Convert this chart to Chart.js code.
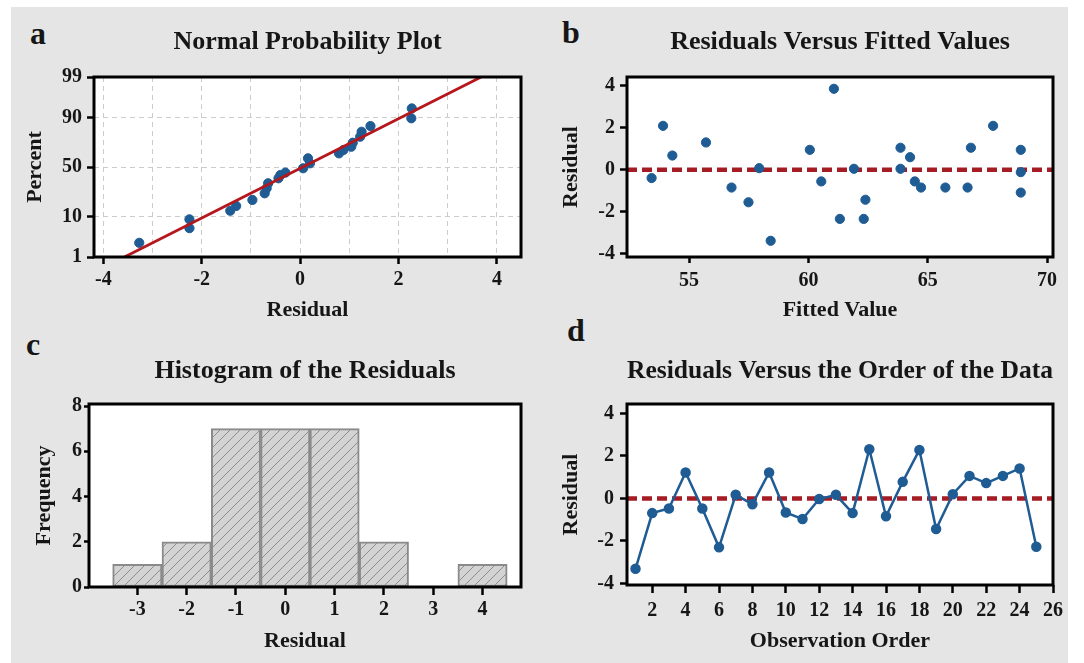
<!DOCTYPE html>
<html>
<head>
<meta charset="utf-8">
<script src="https://cdn.jsdelivr.net/npm/chart.js@4.4.1/dist/chart.umd.min.js"></script>
<style>
  html, body { margin: 0; padding: 0; }
  body { width: 1084px; height: 663px; background: #ffffff; position: relative; overflow: hidden; }
  #bg { position: absolute; left: 11px; top: 7px; width: 1057px; height: 656px; background: #e5e5e5; }
  canvas { position: absolute; }
  .letter { position: absolute; font: bold 32px/32px 'Liberation Serif', serif; color: #161616; }
</style>
</head>
<body>
<div id="bg"></div>
<div class="letter" style="left:30px;top:17px">a</div>
<div class="letter" style="left:562px;top:16px">b</div>
<div class="letter" style="left:26px;top:328px">c</div>
<div class="letter" style="left:567px;top:314px">d</div>
<canvas id="chartA" width="540" height="330" style="left:0;top:0"></canvas>
<canvas id="chartB" width="544" height="330" style="left:540px;top:0"></canvas>
<canvas id="chartC" width="540" height="333" style="left:0;top:330px"></canvas>
<canvas id="chartD" width="544" height="333" style="left:540px;top:330px"></canvas>
<script>
// a - normal probability plot (residual, percent)
const probResidual = [-3.27, -2.25, -2.25, -1.42, -1.30, -0.97, -0.72, -0.68, -0.65, -0.44, -0.40, -0.30,
                      0.06, 0.20, 0.16, 0.79, 0.88, 1.04, 1.07, 1.22, 1.25, 1.43, 2.26, 2.27];
const probPercent = [2.5, 5.7, 8.8, 12.9, 15.7, 19.7, 24.8, 29.1, 33.7, 38.5, 41.8, 44.2,
                     48.7, 53.8, 58.9, 63.8, 67.0, 70.0, 73.5, 78.3, 81.9, 85.5, 89.6, 93.5];
const fitResidual = [-3.57, 3.68];
const fitPercent = [1, 99];
const percentTicks = [1, 10, 50, 90, 99];

// b - residuals versus fitted values
const fittedValue = [53.43, 53.91, 54.30, 55.71, 56.78, 57.49, 57.94, 58.42, 60.06, 60.54, 61.07, 61.32, 61.91, 62.32,
                     62.39, 63.86, 63.86, 64.26, 64.46, 64.72, 65.74, 66.67, 66.81, 67.74, 68.90, 68.90, 68.90];
const fittedResidual = [-0.40, 2.08, 0.67, 1.29, -0.85, -1.55, 0.07, -3.38, 0.94, -0.56, 3.84, -2.34, 0.04, -2.34,
                        -1.43, 1.04, 0.04, 0.59, -0.56, -0.85, -0.85, -0.85, 1.04, 2.08, 0.94, -0.12, -1.09];

// c - histogram of the residuals
const histBins = [-3, -2, -1, 0, 1, 2, 3, 4];
const histCounts = [1, 2, 7, 7, 7, 2, 0, 1];

// d - residuals versus observation order
const obsOrder = [1, 2, 3, 4, 5, 6, 7, 8, 9, 10, 11, 12, 13, 14, 15, 16, 17, 18, 19, 20, 21, 22, 23, 24, 25];
const obsResidual = [-3.31, -0.69, -0.47, 1.22, -0.47, -2.30, 0.17, -0.27, 1.22, -0.66, -0.97, -0.03, 0.17,
                     -0.69, 2.31, -0.84, 0.78, 2.28, -1.44, 0.20, 1.06, 0.72, 1.06, 1.41, -2.27];

const serif = "'Liberation Serif', 'Times New Roman', serif";
const ink = '#161616';
const blue = '#1f5c94';
const darkRed = '#a51c24';

// inverse normal cdf (Abramowitz & Stegun 26.2.23), good enough for the probability axis
function probit(p) {
    const q = p < 0.5 ? p : 1 - p;
    const t = Math.sqrt(-2 * Math.log(q));
    const z = t - (2.515517 + 0.802853 * t + 0.010328 * t * t) /
        (1 + 1.432788 * t + 0.189269 * t * t + 0.001308 * t * t * t);
    return p < 0.5 ? -z : z;
}

const framePlugin = {
    id: 'frame',
    beforeDraw(chart) {
        const {ctx, chartArea: a} = chart;
        ctx.save();
        ctx.fillStyle = '#ffffff';
        ctx.fillRect(a.left, a.top, a.right - a.left, a.bottom - a.top);
        ctx.restore();
    },
    afterDatasetsDraw(chart) {
        const {ctx, chartArea: a} = chart;
        ctx.save();
        ctx.strokeStyle = '#000';
        ctx.lineWidth = 3;
        ctx.strokeRect(a.left, a.top, a.right - a.left, a.bottom - a.top);
        ctx.restore();
    }
};

function tickFont() {
    return {family: serif, size: 20, weight: 'bold'};
}

function axisTitle(text, pad) {
    return {display: true, text: text, color: ink, font: {family: serif, size: 22, weight: 'bold'}, padding: pad};
}

function xAxis(o) {
    return {
        type: 'linear', min: o.min, max: o.max, offset: false,
        afterFit: (s) => { s.height = o.height; },
        border: {display: false, dash: o.dash || []},
        grid: {
            drawOnChartArea: !!o.gridColor, color: o.gridColor || '#000', lineWidth: 1, offset: false,
            drawTicks: true, tickLength: o.tickLength, tickWidth: 2.5, tickColor: o.tickColor || '#000'
        },
        ticks: {
            stepSize: o.step, includeBounds: false, autoSkip: false, maxRotation: 0, padding: o.pad,
            color: ink, font: tickFont(), callback: o.cb || ((v) => String(v))
        },
        title: axisTitle(o.title, {top: 0, bottom: o.titlePad})
    };
}

function yAxis(o) {
    return {
        type: 'linear', min: o.min, max: o.max,
        afterFit: (s) => { s.width = o.width; },
        afterBuildTicks: o.afterBuildTicks,
        border: {display: false, dash: o.dash || []},
        grid: {
            drawOnChartArea: !!o.gridColor, color: o.gridColor || '#000', lineWidth: 1,
            drawTicks: true, tickLength: o.tickLength, tickWidth: 2.5, tickColor: '#000'
        },
        ticks: {
            stepSize: o.step, includeBounds: false, autoSkip: false, padding: o.pad,
            color: ink, font: tickFont(), callback: o.cb || ((v) => String(v))
        },
        title: axisTitle(o.title, {top: o.titlePad, bottom: 0})
    };
}

function baseOptions(title, titlePad, rightPad, scales) {
    return {
        responsive: false,
        animation: false,
        devicePixelRatio: 1,
        layout: {padding: {left: 0, right: rightPad, top: 0, bottom: 0}},
        plugins: {
            legend: {display: false},
            tooltip: {enabled: false},
            title: {
                display: true, text: title, fullSize: false, color: ink,
                font: {family: serif, size: 26, weight: 'bold'}, padding: titlePad
            }
        },
        scales: scales
    };
}

// ---- a ----
new Chart(document.getElementById('chartA'), {
    type: 'scatter',
    data: {
        datasets: [
            {
                data: fitResidual.map((x, i) => ({x: x, y: probit(fitPercent[i] / 100)})),
                showLine: true, borderColor: '#b5171d', borderWidth: 2.8, pointRadius: 0, order: 0
            },
            {
                data: probResidual.map((x, i) => ({x: x, y: probit(probPercent[i] / 100)})),
                backgroundColor: blue, borderColor: blue, pointRadius: 4.6, order: 1
            }
        ]
    },
    options: baseOptions('Normal Probability Plot', {top: 26.6, bottom: 19.2}, 19, {
        x: xAxis({
            min: -4.19, max: 4.49, step: 1, height: 73, tickLength: 7, pad: 4, titlePad: 6.9,
            title: 'Residual', gridColor: '#cccccc', dash: [5, 4],
            tickColor: (c) => (c.tick && c.tick.value % 2 === 0) ? '#000' : 'rgba(0,0,0,0)',
            cb: (v) => (v % 2 === 0 ? String(v) : '')
        }),
        y: yAxis({
            min: probit(0.01), max: probit(0.99), width: 94, tickLength: 7, pad: 5, titlePad: 22,
            title: 'Percent', gridColor: '#cccccc', dash: [5, 4],
            afterBuildTicks: (s) => { s.ticks = percentTicks.map((p) => ({value: probit(p / 100)})); },
            cb: (v, i) => String(percentTicks[i])
        })
    }),
    plugins: [framePlugin]
});

// ---- b ----
const bXMin = 52.4, bXMax = 70.25;
new Chart(document.getElementById('chartB'), {
    type: 'scatter',
    data: {
        datasets: [
            {
                data: [{x: bXMin, y: 0}, {x: bXMax, y: 0}],
                showLine: true, borderColor: darkRed, borderWidth: 4.5, borderDash: [10, 5], pointRadius: 0, order: 1
            },
            {
                data: fittedValue.map((x, i) => ({x: x, y: fittedResidual[i]})),
                backgroundColor: blue, borderColor: blue, pointRadius: 4.6, order: 0
            }
        ]
    },
    options: baseOptions('Residuals Versus Fitted Values', {top: 26.6, bottom: 19.2}, 31, {
        x: xAxis({min: bXMin, max: bXMax, step: 5, height: 73, tickLength: 6, pad: 5.5, titlePad: 6, title: 'Fitted Value'}),
        y: yAxis({min: -4.15, max: 4.4, step: 2, width: 87, tickLength: 7, pad: 5, titlePad: 18.4, title: 'Residual'})
    }),
    plugins: [framePlugin]
});

// ---- c ----
const canvasC = document.getElementById('chartC');
function hatchPattern(target) {
    const tile = document.createElement('canvas');
    tile.width = 10;
    tile.height = 10;
    const g = tile.getContext('2d');
    g.fillStyle = '#d3d3d3';
    g.fillRect(0, 0, 10, 10);
    g.strokeStyle = '#8e8e8e';
    g.lineWidth = 1;
    g.beginPath();
    g.moveTo(0, 10); g.lineTo(10, 0);
    g.moveTo(-5, 5); g.lineTo(5, -5);
    g.moveTo(5, 15); g.lineTo(15, 5);
    g.stroke();
    return target.getContext('2d').createPattern(tile, 'repeat');
}
new Chart(canvasC, {
    type: 'bar',
    data: {
        datasets: [{
            data: histBins.map((b, i) => ({x: b, y: histCounts[i]})),
            backgroundColor: hatchPattern(canvasC), borderColor: '#8a8a8a', borderWidth: 2,
            borderSkipped: false, barPercentage: 1, categoryPercentage: 1
        }]
    },
    options: baseOptions('Histogram of the Residuals', {top: 25.6, bottom: 17.2}, 19, {
        x: xAxis({min: -3.98, max: 4.78, step: 1, height: 76, tickLength: 8, pad: 2.5, titlePad: 8.2, title: 'Residual'}),
        y: yAxis({min: 0, max: 8.09, step: 2, width: 89, tickLength: 5, pad: 2, titlePad: 31.4, title: 'Frequency'})
    }),
    plugins: [framePlugin]
});

// ---- d ----
const dXMin = 0.49, dXMax = 26;
new Chart(document.getElementById('chartD'), {
    type: 'scatter',
    data: {
        datasets: [
            {
                data: [{x: dXMin, y: 0}, {x: dXMax, y: 0}],
                showLine: true, borderColor: darkRed, borderWidth: 4.5, borderDash: [10, 5], pointRadius: 0, order: 1
            },
            {
                data: obsOrder.map((x, i) => ({x: x, y: obsResidual[i]})),
                showLine: true, borderColor: blue, borderWidth: 2.5,
                backgroundColor: blue, pointRadius: 4, order: 0
            }
        ]
    },
    options: baseOptions('Residuals Versus the Order of the Data', {top: 25.6, bottom: 17.2}, 31, {
        x: xAxis({min: dXMin, max: dXMax, step: 2, height: 78, tickLength: 8, pad: 5.5, titlePad: 8.2, title: 'Observation Order'}),
        y: yAxis({min: -4.07, max: 4.44, step: 2, width: 87, tickLength: 7, pad: 6, titlePad: 18.4, title: 'Residual'})
    }),
    plugins: [framePlugin]
});
</script>
</body>
</html>
